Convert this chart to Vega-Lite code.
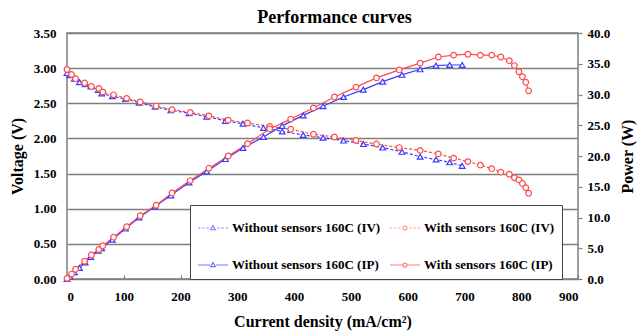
{
  "$schema": "https://vega.github.io/schema/vega-lite/v6.json",
  "width": 511,
  "height": 246,
  "autosize": {"type": "none"},
  "padding": {"left": 67, "top": 33, "right": 60, "bottom": 52},
  "background": "white",
  "title": {"text": "Performance curves", "font": "Liberation Serif", "fontSize": 18, "fontWeight": "bold", "color": "black", "anchor": "middle", "frame": "group", "dx": 12, "offset": 0},
  "config": {"view": {"stroke": "#7f7f7f", "strokeWidth": 1.5}},
  "datasets": {
    "curves": [
      {"series": "Without sensors 160C (IV)", "I": 0, "value": 2.93},
      {"series": "Without sensors 160C (IV)", "I": 5, "value": 2.90},
      {"series": "Without sensors 160C (IV)", "I": 13, "value": 2.85},
      {"series": "Without sensors 160C (IV)", "I": 22, "value": 2.80},
      {"series": "Without sensors 160C (IV)", "I": 32, "value": 2.77},
      {"series": "Without sensors 160C (IV)", "I": 42, "value": 2.74},
      {"series": "Without sensors 160C (IV)", "I": 55, "value": 2.69},
      {"series": "Without sensors 160C (IV)", "I": 61, "value": 2.64},
      {"series": "Without sensors 160C (IV)", "I": 80, "value": 2.60},
      {"series": "Without sensors 160C (IV)", "I": 103, "value": 2.56},
      {"series": "Without sensors 160C (IV)", "I": 127, "value": 2.51},
      {"series": "Without sensors 160C (IV)", "I": 155, "value": 2.45},
      {"series": "Without sensors 160C (IV)", "I": 183, "value": 2.40},
      {"series": "Without sensors 160C (IV)", "I": 215, "value": 2.36},
      {"series": "Without sensors 160C (IV)", "I": 246, "value": 2.31},
      {"series": "Without sensors 160C (IV)", "I": 279, "value": 2.25},
      {"series": "Without sensors 160C (IV)", "I": 310, "value": 2.21},
      {"series": "Without sensors 160C (IV)", "I": 346, "value": 2.15},
      {"series": "Without sensors 160C (IV)", "I": 379, "value": 2.10},
      {"series": "Without sensors 160C (IV)", "I": 416, "value": 2.05},
      {"series": "Without sensors 160C (IV)", "I": 451, "value": 2.01},
      {"series": "Without sensors 160C (IV)", "I": 487, "value": 1.97},
      {"series": "Without sensors 160C (IV)", "I": 522, "value": 1.92},
      {"series": "Without sensors 160C (IV)", "I": 556, "value": 1.87},
      {"series": "Without sensors 160C (IV)", "I": 590, "value": 1.81},
      {"series": "Without sensors 160C (IV)", "I": 622, "value": 1.74},
      {"series": "Without sensors 160C (IV)", "I": 650, "value": 1.70},
      {"series": "Without sensors 160C (IV)", "I": 674, "value": 1.66},
      {"series": "Without sensors 160C (IV)", "I": 696, "value": 1.61},

      {"series": "Without sensors 160C (IP)", "I": 0, "value": 0.0},
      {"series": "Without sensors 160C (IP)", "I": 5, "value": 0.4},
      {"series": "Without sensors 160C (IP)", "I": 13, "value": 1.1},
      {"series": "Without sensors 160C (IP)", "I": 22, "value": 1.8},
      {"series": "Without sensors 160C (IP)", "I": 32, "value": 2.7},
      {"series": "Without sensors 160C (IP)", "I": 42, "value": 3.6},
      {"series": "Without sensors 160C (IP)", "I": 55, "value": 4.6},
      {"series": "Without sensors 160C (IP)", "I": 61, "value": 5.0},
      {"series": "Without sensors 160C (IP)", "I": 80, "value": 6.4},
      {"series": "Without sensors 160C (IP)", "I": 103, "value": 8.2},
      {"series": "Without sensors 160C (IP)", "I": 127, "value": 10.0},
      {"series": "Without sensors 160C (IP)", "I": 155, "value": 11.8},
      {"series": "Without sensors 160C (IP)", "I": 183, "value": 13.6},
      {"series": "Without sensors 160C (IP)", "I": 215, "value": 15.7},
      {"series": "Without sensors 160C (IP)", "I": 246, "value": 17.5},
      {"series": "Without sensors 160C (IP)", "I": 279, "value": 19.5},
      {"series": "Without sensors 160C (IP)", "I": 310, "value": 21.3},
      {"series": "Without sensors 160C (IP)", "I": 346, "value": 23.1},
      {"series": "Without sensors 160C (IP)", "I": 379, "value": 24.9},
      {"series": "Without sensors 160C (IP)", "I": 416, "value": 26.6},
      {"series": "Without sensors 160C (IP)", "I": 451, "value": 28.1},
      {"series": "Without sensors 160C (IP)", "I": 487, "value": 29.6},
      {"series": "Without sensors 160C (IP)", "I": 522, "value": 30.8},
      {"series": "Without sensors 160C (IP)", "I": 556, "value": 32.1},
      {"series": "Without sensors 160C (IP)", "I": 590, "value": 33.2},
      {"series": "Without sensors 160C (IP)", "I": 622, "value": 34.1},
      {"series": "Without sensors 160C (IP)", "I": 650, "value": 34.7},
      {"series": "Without sensors 160C (IP)", "I": 674, "value": 34.8},
      {"series": "Without sensors 160C (IP)", "I": 696, "value": 34.8},

      {"series": "With sensors 160C (IV)", "I": 0, "value": 2.98},
      {"series": "With sensors 160C (IV)", "I": 8, "value": 2.91},
      {"series": "With sensors 160C (IV)", "I": 15, "value": 2.85},
      {"series": "With sensors 160C (IV)", "I": 31, "value": 2.79},
      {"series": "With sensors 160C (IV)", "I": 43, "value": 2.74},
      {"series": "With sensors 160C (IV)", "I": 56, "value": 2.71},
      {"series": "With sensors 160C (IV)", "I": 63, "value": 2.66},
      {"series": "With sensors 160C (IV)", "I": 82, "value": 2.62},
      {"series": "With sensors 160C (IV)", "I": 105, "value": 2.57},
      {"series": "With sensors 160C (IV)", "I": 129, "value": 2.52},
      {"series": "With sensors 160C (IV)", "I": 157, "value": 2.46},
      {"series": "With sensors 160C (IV)", "I": 185, "value": 2.41},
      {"series": "With sensors 160C (IV)", "I": 217, "value": 2.37},
      {"series": "With sensors 160C (IV)", "I": 250, "value": 2.32},
      {"series": "With sensors 160C (IV)", "I": 284, "value": 2.26},
      {"series": "With sensors 160C (IV)", "I": 318, "value": 2.22},
      {"series": "With sensors 160C (IV)", "I": 357, "value": 2.17},
      {"series": "With sensors 160C (IV)", "I": 394, "value": 2.13},
      {"series": "With sensors 160C (IV)", "I": 434, "value": 2.06},
      {"series": "With sensors 160C (IV)", "I": 471, "value": 2.02},
      {"series": "With sensors 160C (IV)", "I": 509, "value": 1.97},
      {"series": "With sensors 160C (IV)", "I": 545, "value": 1.92},
      {"series": "With sensors 160C (IV)", "I": 585, "value": 1.87},
      {"series": "With sensors 160C (IV)", "I": 622, "value": 1.83},
      {"series": "With sensors 160C (IV)", "I": 654, "value": 1.78},
      {"series": "With sensors 160C (IV)", "I": 681, "value": 1.72},
      {"series": "With sensors 160C (IV)", "I": 706, "value": 1.67},
      {"series": "With sensors 160C (IV)", "I": 728, "value": 1.62},
      {"series": "With sensors 160C (IV)", "I": 748, "value": 1.57},
      {"series": "With sensors 160C (IV)", "I": 764, "value": 1.52},
      {"series": "With sensors 160C (IV)", "I": 779, "value": 1.49},
      {"series": "With sensors 160C (IV)", "I": 788, "value": 1.44},
      {"series": "With sensors 160C (IV)", "I": 796, "value": 1.41},
      {"series": "With sensors 160C (IV)", "I": 802, "value": 1.36},
      {"series": "With sensors 160C (IV)", "I": 808, "value": 1.30},
      {"series": "With sensors 160C (IV)", "I": 813, "value": 1.22},

      {"series": "With sensors 160C (IP)", "I": 0, "value": 0.1},
      {"series": "With sensors 160C (IP)", "I": 8, "value": 0.8},
      {"series": "With sensors 160C (IP)", "I": 15, "value": 1.6},
      {"series": "With sensors 160C (IP)", "I": 31, "value": 2.9},
      {"series": "With sensors 160C (IP)", "I": 43, "value": 3.9},
      {"series": "With sensors 160C (IP)", "I": 56, "value": 4.8},
      {"series": "With sensors 160C (IP)", "I": 63, "value": 5.4},
      {"series": "With sensors 160C (IP)", "I": 82, "value": 6.8},
      {"series": "With sensors 160C (IP)", "I": 105, "value": 8.5},
      {"series": "With sensors 160C (IP)", "I": 129, "value": 10.3},
      {"series": "With sensors 160C (IP)", "I": 157, "value": 12.0},
      {"series": "With sensors 160C (IP)", "I": 185, "value": 14.0},
      {"series": "With sensors 160C (IP)", "I": 217, "value": 16.0},
      {"series": "With sensors 160C (IP)", "I": 250, "value": 18.0},
      {"series": "With sensors 160C (IP)", "I": 284, "value": 20.0},
      {"series": "With sensors 160C (IP)", "I": 318, "value": 22.0},
      {"series": "With sensors 160C (IP)", "I": 357, "value": 24.4},
      {"series": "With sensors 160C (IP)", "I": 394, "value": 26.0},
      {"series": "With sensors 160C (IP)", "I": 434, "value": 27.8},
      {"series": "With sensors 160C (IP)", "I": 471, "value": 29.6},
      {"series": "With sensors 160C (IP)", "I": 509, "value": 31.2},
      {"series": "With sensors 160C (IP)", "I": 545, "value": 32.7},
      {"series": "With sensors 160C (IP)", "I": 585, "value": 34.0},
      {"series": "With sensors 160C (IP)", "I": 622, "value": 35.1},
      {"series": "With sensors 160C (IP)", "I": 654, "value": 36.1},
      {"series": "With sensors 160C (IP)", "I": 681, "value": 36.4},
      {"series": "With sensors 160C (IP)", "I": 706, "value": 36.55},
      {"series": "With sensors 160C (IP)", "I": 728, "value": 36.4},
      {"series": "With sensors 160C (IP)", "I": 748, "value": 36.4},
      {"series": "With sensors 160C (IP)", "I": 764, "value": 36.1},
      {"series": "With sensors 160C (IP)", "I": 779, "value": 35.5},
      {"series": "With sensors 160C (IP)", "I": 788, "value": 34.7},
      {"series": "With sensors 160C (IP)", "I": 796, "value": 33.7},
      {"series": "With sensors 160C (IP)", "I": 802, "value": 32.9},
      {"series": "With sensors 160C (IP)", "I": 808, "value": 32.0},
      {"series": "With sensors 160C (IP)", "I": 813, "value": 30.6}
    ]
  },
  "data": {"name": "curves"},
  "layer": [
    {
      "transform": [{"filter": "indexof(datum.series, '(IV)') >= 0"}],
      "encoding": {
        "x": {"field": "I", "type": "quantitative", "scale": {"domain": [0, 900], "nice": false},
          "axis": {"values": [0, 100, 200, 300, 400, 500, 600, 700, 800, 900], "format": "d", "grid": false, "domain": false, "ticks": true, "tickSize": -4, "tickColor": "#7f7f7f", "tickWidth": 1.2, "labelPadding": 15, "labelFont": "Liberation Serif", "labelFontSize": 13, "labelFontWeight": "bold", "labelColor": "black", "title": "Current density (mA/cm²)", "titleFont": "Liberation Serif", "titleFontSize": 16, "titleFontWeight": "bold", "titleColor": "black", "titlePadding": 10}},
        "y": {"field": "value", "type": "quantitative", "scale": {"domain": [0, 3.5], "nice": false},
          "axis": {"orient": "left", "values": [0, 0.5, 1, 1.5, 2, 2.5, 3, 3.5], "format": ".2f", "grid": true, "gridColor": "#7f7f7f", "gridWidth": 1.5, "domain": false, "ticks": false, "labelPadding": 11, "labelFont": "Liberation Serif", "labelFontSize": 13, "labelFontWeight": "bold", "labelColor": "black", "title": "Voltage (V)", "titleFont": "Liberation Serif", "titleFontSize": 16, "titleFontWeight": "bold", "titleColor": "black", "titlePadding": 8}},
        "stroke": {"field": "series", "type": "nominal", "scale": {"domain": ["Without sensors 160C (IV)", "With sensors 160C (IV)"], "range": ["#3a3aff", "#ff4a4a"]}, "legend": null}
      },
      "layer": [
        {"mark": {"type": "line", "strokeDash": [3, 2], "strokeWidth": 1.2}},
        {"mark": {"type": "point", "filled": true, "fill": "white", "size": 32, "strokeWidth": 1.2, "opacity": 1},
          "encoding": {"shape": {"field": "series", "type": "nominal", "scale": {"domain": ["Without sensors 160C (IV)", "With sensors 160C (IV)"], "range": ["triangle-up", "circle"]}, "legend": null}}}
      ]
    },
    {
      "transform": [{"filter": "indexof(datum.series, '(IP)') >= 0"}],
      "encoding": {
        "x": {"field": "I", "type": "quantitative", "scale": {"domain": [0, 900], "nice": false},
          "axis": {"values": [0, 100, 200, 300, 400, 500, 600, 700, 800, 900], "format": "d", "grid": false, "domain": false, "ticks": true, "tickSize": -4, "tickColor": "#7f7f7f", "tickWidth": 1.2, "labelPadding": 15, "labelFont": "Liberation Serif", "labelFontSize": 13, "labelFontWeight": "bold", "labelColor": "black", "title": "Current density (mA/cm²)", "titleFont": "Liberation Serif", "titleFontSize": 16, "titleFontWeight": "bold", "titleColor": "black", "titlePadding": 10}},
        "y": {"field": "value", "type": "quantitative", "scale": {"domain": [0, 40], "nice": false},
          "axis": {"orient": "right", "values": [0, 5, 10, 15, 20, 25, 30, 35, 40], "format": ".1f", "grid": false, "domain": false, "ticks": true, "tickSize": 4, "tickColor": "#7f7f7f", "tickWidth": 1.2, "labelPadding": 5, "labelFont": "Liberation Serif", "labelFontSize": 13, "labelFontWeight": "bold", "labelColor": "black", "title": "Power (W)", "titleAngle": 270, "titleBaseline": "top", "titleFont": "Liberation Serif", "titleFontSize": 16, "titleFontWeight": "bold", "titleColor": "black", "titlePadding": 10}},
        "stroke": {"field": "series", "type": "nominal", "scale": {"domain": ["Without sensors 160C (IP)", "With sensors 160C (IP)"], "range": ["#3a3aff", "#ff4a4a"]}, "legend": null}
      },
      "layer": [
        {"mark": {"type": "line", "strokeWidth": 1.2}},
        {"mark": {"type": "point", "filled": true, "fill": "white", "size": 32, "strokeWidth": 1.2, "opacity": 1},
          "encoding": {"shape": {"field": "series", "type": "nominal", "scale": {"domain": ["Without sensors 160C (IP)", "With sensors 160C (IP)"], "range": ["triangle-up", "circle"]}, "legend": null}}}
      ]
    },
    {
      "transform": [{"filter": "false"}],
      "mark": {"type": "point", "filled": false, "strokeWidth": 1.2},
      "encoding": {
        "stroke": {"field": "series", "type": "nominal",
          "scale": {"domain": ["Without sensors 160C (IV)", "Without sensors 160C (IP)", "With sensors 160C (IV)", "With sensors 160C (IP)"], "range": ["#5a5aff", "#3a3aff", "#ff6a6a", "#ff4a4a"]},
          "legend": {"title": null, "orient": "none", "legendX": 123, "legendY": 172, "columns": 2, "symbolSize": 900, "symbolStrokeWidth": 1.2, "labelFont": "Liberation Serif", "labelFontSize": 13, "labelFontWeight": "bold", "labelColor": "black", "labelOffset": 3, "labelLimit": 300, "padding": 7, "rowPadding": 14, "columnPadding": 6, "fillColor": "white", "strokeColor": "#444444"}},
        "shape": {"field": "series", "type": "nominal",
          "scale": {"domain": ["Without sensors 160C (IV)", "Without sensors 160C (IP)", "With sensors 160C (IV)", "With sensors 160C (IP)"],
            "range": [
              "M-1,0H-0.85M-0.72,0H-0.57M-0.44,0H-0.29M0.29,0H0.44M0.57,0H0.72M0.85,0H1M0,-0.17L0.16,0.11L-0.16,0.11Z",
              "M-1,0H-0.2M0.2,0H1M0,-0.17L0.16,0.11L-0.16,0.11Z",
              "M-1,0H-0.85M-0.72,0H-0.57M-0.44,0H-0.29M0.29,0H0.44M0.57,0H0.72M0.85,0H1M0.13,0A0.13,0.13 0 1,1 -0.13,0A0.13,0.13 0 1,1 0.13,0Z",
              "M-1,0H-0.13M0.13,0H1M0.13,0A0.13,0.13 0 1,1 -0.13,0A0.13,0.13 0 1,1 0.13,0Z"
            ]},
          "legend": {"title": null, "orient": "none", "legendX": 123, "legendY": 172, "columns": 2, "symbolSize": 900, "symbolStrokeWidth": 1.2, "labelFont": "Liberation Serif", "labelFontSize": 13, "labelFontWeight": "bold", "labelColor": "black", "labelOffset": 3, "labelLimit": 300, "padding": 7, "rowPadding": 14, "columnPadding": 6, "fillColor": "white", "strokeColor": "#444444"}}
      }
    }
  ],
  "resolve": {"scale": {"y": "independent", "stroke": "independent", "shape": "independent"}}
}
